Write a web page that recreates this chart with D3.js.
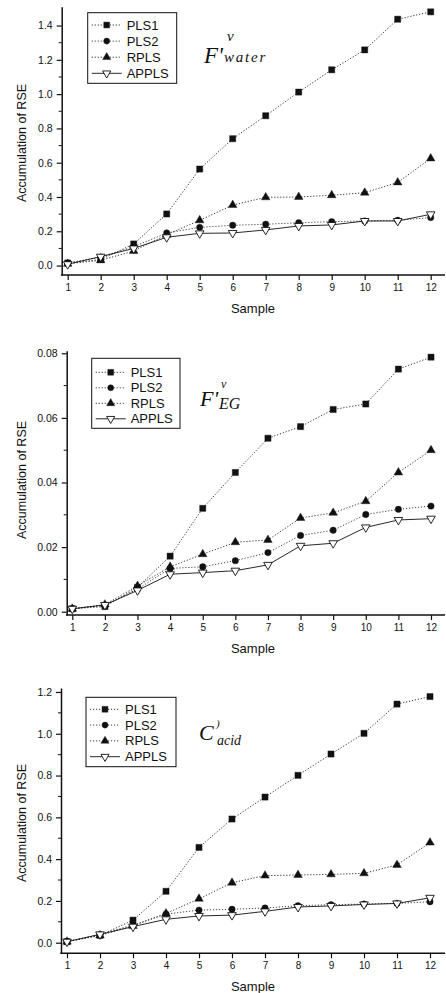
<!DOCTYPE html>
<html><head><meta charset="utf-8">
<script src="https://cdn.jsdelivr.net/npm/d3@7"></script>
<style>
body{margin:0;background:#fff;}
svg{display:block;}
text{font-family:"Liberation Sans",Arial,sans-serif;fill:#111;}
.ser{font-family:"Liberation Serif","Times New Roman",serif;font-style:italic;}
</style></head>
<body>
<svg id="c" width="446" height="993"></svg>
<script>
// ---- data ----
const samples = [1,2,3,4,5,6,7,8,9,10,11,12];
const seriesNames = ["PLS1","PLS2","RPLS","APPLS"];

// Panel 1: F'v water
const water_PLS1  = [0.015,0.035,0.126,0.301,0.563,0.740,0.874,1.012,1.142,1.258,1.437,1.480];
const water_PLS2  = [0.015,0.050,0.110,0.190,0.223,0.235,0.241,0.250,0.256,0.260,0.264,0.280];
const water_RPLS  = [0.010,0.031,0.085,0.180,0.264,0.353,0.398,0.400,0.410,0.425,0.485,0.625];
const water_APPLS = [0.008,0.052,0.100,0.165,0.188,0.190,0.208,0.231,0.237,0.260,0.260,0.299];
const water_yTicks = [0.0,0.2,0.4,0.6,0.8,1.0,1.2,1.4];

// Panel 2: F'v EG
const eg_PLS1  = [0.0009,0.0016,0.0075,0.0172,0.0320,0.0431,0.0537,0.0573,0.0626,0.0643,0.0751,0.0788];
const eg_PLS2  = [0.0009,0.0020,0.0070,0.0134,0.0139,0.0158,0.0183,0.0236,0.0252,0.0301,0.0317,0.0327];
const eg_RPLS  = [0.0009,0.0022,0.0080,0.0139,0.0178,0.0215,0.0222,0.0290,0.0306,0.0342,0.0431,0.0500];
const eg_APPLS = [0.0009,0.0021,0.0066,0.0116,0.0121,0.0127,0.0145,0.0204,0.0212,0.0261,0.0284,0.0288];
const eg_yTicks = [0.00,0.02,0.04,0.06,0.08];

// Panel 3: C acid
const acid_PLS1  = [0.005,0.035,0.108,0.246,0.456,0.592,0.697,0.801,0.903,1.002,1.142,1.178];
const acid_PLS2  = [0.005,0.040,0.085,0.137,0.156,0.160,0.166,0.177,0.182,0.185,0.188,0.196];
const acid_RPLS  = [0.005,0.035,0.080,0.140,0.210,0.287,0.321,0.324,0.327,0.332,0.372,0.479];
const acid_APPLS = [0.005,0.040,0.077,0.112,0.128,0.132,0.150,0.171,0.176,0.183,0.188,0.215];
const acid_yTicks = [0.0,0.2,0.4,0.6,0.8,1.0,1.2];

const xLabel = "Sample";
const yLabel = "Accumulation of RSE";

// ---- drawing ----
const svg = d3.select("#c");
const styles = {
  PLS1:{sym:d3.symbolSquare,size:38,fill:"#111",dash:"1.2,1.8",color:"#333"},
  PLS2:{sym:d3.symbolCircle,size:32,fill:"#111",dash:"1.2,1.8",color:"#444"},
  RPLS:{sym:d3.symbolTriangle,size:32,fill:"#111",dash:"1.2,1.8",color:"#333"},
  APPLS:{sym:d3.symbolTriangle,size:32,fill:"#fff",dash:null,color:"#111",rot:180}
};

function panel(cfg){
  const g = svg.append("g");
  const x = d3.scaleLinear().domain([1,12]).range(cfg.xr);
  const y = d3.scaleLinear().domain(cfg.yd).range([cfg.bottom,cfg.top]);
  // y axis
  const ya = d3.axisLeft(y).tickValues(cfg.yTicks).tickFormat(d3.format(cfg.fmt)).tickSize(5).tickSizeOuter(0);
  const yg = g.append("g").attr("transform",`translate(${cfg.axX},0)`).call(ya);
  yg.select(".domain").attr("stroke","#111").attr("stroke-width",1.5);
  yg.selectAll(".tick line").attr("stroke","#111").attr("stroke-width",1.2);
  yg.selectAll(".tick text").attr("font-size",10.5).attr("x",-9).style("font-family","Liberation Sans,Arial,sans-serif");
  // minor y ticks
  const minors = [];
  for(let i=0;i<cfg.yTicks.length-1;i++) minors.push((cfg.yTicks[i]+cfg.yTicks[i+1])/2);
  g.selectAll(null).data(minors).enter().append("line")
    .attr("x1",cfg.axX-3).attr("x2",cfg.axX).attr("y1",d=>y(d)).attr("y2",d=>y(d))
    .attr("stroke","#111").attr("stroke-width",1);
  // x axis
  const xa = d3.axisBottom(x).tickValues(samples).tickFormat(d3.format("d")).tickSize(5).tickSizeOuter(0);
  const xg = g.append("g").attr("transform",`translate(0,${cfg.bottom})`).call(xa);
  xg.select(".domain").remove();
  xg.selectAll(".tick line").attr("stroke","#111").attr("stroke-width",1.2);
  xg.selectAll(".tick text").attr("font-size",10).attr("y",8.5).style("font-family","Liberation Sans,Arial,sans-serif");
  g.append("line").attr("x1",cfg.axX-0.75).attr("x2",445).attr("y1",cfg.bottom).attr("y2",cfg.bottom)
    .attr("stroke","#111").attr("stroke-width",1.5);
  // labels
  g.append("text").attr("x",253).attr("y",cfg.bottom+38).attr("text-anchor","middle").attr("font-size",13).text(xLabel);
  g.append("text").attr("transform",`translate(26,${cfg.ylY}) rotate(-90)`).attr("text-anchor","middle").attr("font-size",12.5).text(yLabel);
  // series
  const line = d3.line().x((d,i)=>x(samples[i])).y(d=>y(d));
  seriesNames.forEach(n=>{
    const st = styles[n];
    g.append("path").datum(cfg.data[n]).attr("d",line).attr("fill","none")
      .attr("stroke",st.color).attr("stroke-width",st.dash?1:0.9).attr("stroke-dasharray",st.dash);
  });
  seriesNames.forEach(n=>{
    const st = styles[n];
    g.selectAll(null).data(cfg.data[n]).enter().append("path")
      .attr("d",d3.symbol().type(st.sym).size(st.size))
      .attr("transform",(d,i)=>`translate(${x(samples[i])},${y(d)})${st.rot?" rotate(180)":""}`)
      .attr("fill",st.fill).attr("stroke","#111").attr("stroke-width",st.fill==="#fff"?0.9:0.4);
  });
  // legend
  const L = cfg.leg;
  g.append("rect").attr("x",L.x).attr("y",L.y).attr("width",L.w).attr("height",L.h)
    .attr("fill","#fff").attr("stroke","#111").attr("stroke-width",1);
  seriesNames.forEach((n,i)=>{
    const st = styles[n];
    const ry = L.y + L.r0 + i*L.dy;
    g.append("line").attr("x1",L.x+4).attr("x2",L.x+34).attr("y1",ry).attr("y2",ry)
      .attr("stroke",st.color).attr("stroke-width",st.dash?1:0.9).attr("stroke-dasharray",st.dash);
    g.append("path").attr("d",d3.symbol().type(st.sym).size(st.size*0.9))
      .attr("transform",`translate(${L.x+19},${ry})${st.rot?" rotate(180)":""}`)
      .attr("fill",st.fill).attr("stroke","#111").attr("stroke-width",st.fill==="#fff"?0.9:0.4);
    g.append("text").attr("x",L.x+39).attr("y",ry+4.5).attr("font-size",13).text(n);
  });
  cfg.title(g);
}

panel({
  xr:[67.7,430.7], axX:61.7, top:6.7, bottom:275, yd:[-0.055,1.51], yTicks:water_yTicks, fmt:".1f", ylY:143,
  data:{PLS1:water_PLS1,PLS2:water_PLS2,RPLS:water_RPLS,APPLS:water_APPLS},
  leg:{x:87.7,y:12.7,w:89,h:70.6,r0:12.3,dy:16.1},
  title:g=>{
    g.append("text").attr("class","ser").attr("x",204).attr("y",63).attr("font-size",23).text("F'");
    g.append("text").attr("class","ser").attr("x",227).attr("y",41).attr("font-size",15).text("v");
    g.append("text").attr("class","ser").attr("x",224).attr("y",62).attr("font-size",15).attr("letter-spacing",1.8).text("water");
  }
});
panel({
  xr:[72.3,431], axX:66.7, top:350.7, bottom:615, yd:[-0.00102,0.0808], yTicks:eg_yTicks, fmt:".2f", ylY:480,
  data:{PLS1:eg_PLS1,PLS2:eg_PLS2,RPLS:eg_RPLS,APPLS:eg_APPLS},
  leg:{x:91.7,y:358.3,w:88.3,h:70,r0:14,dy:15.5},
  title:g=>{
    g.append("text").attr("class","ser").attr("x",200).attr("y",406).attr("font-size",22).text("F'");
    g.append("text").attr("class","ser").attr("x",221).attr("y",388).attr("font-size",12).text("v");
    g.append("text").attr("class","ser").attr("x",219).attr("y",409).attr("font-size",16).text("EG");
  }
});
panel({
  xr:[67,430], axX:61, top:688, bottom:953.3, yd:[-0.0507,1.219], yTicks:acid_yTicks, fmt:".1f", ylY:823,
  data:{PLS1:acid_PLS1,PLS2:acid_PLS2,RPLS:acid_RPLS,APPLS:acid_APPLS},
  leg:{x:86,y:697.3,w:90,h:69.4,r0:12,dy:15.8},
  title:g=>{
    g.append("text").attr("class","ser").attr("x",199).attr("y",740).attr("font-size",22).text("C");
    g.append("text").attr("class","ser").attr("x",216).attr("y",727).attr("font-size",11).text(")");
    g.append("text").attr("class","ser").attr("x",217).attr("y",745).attr("font-size",14).text("acid");
  }
});
</script>
</body></html>
